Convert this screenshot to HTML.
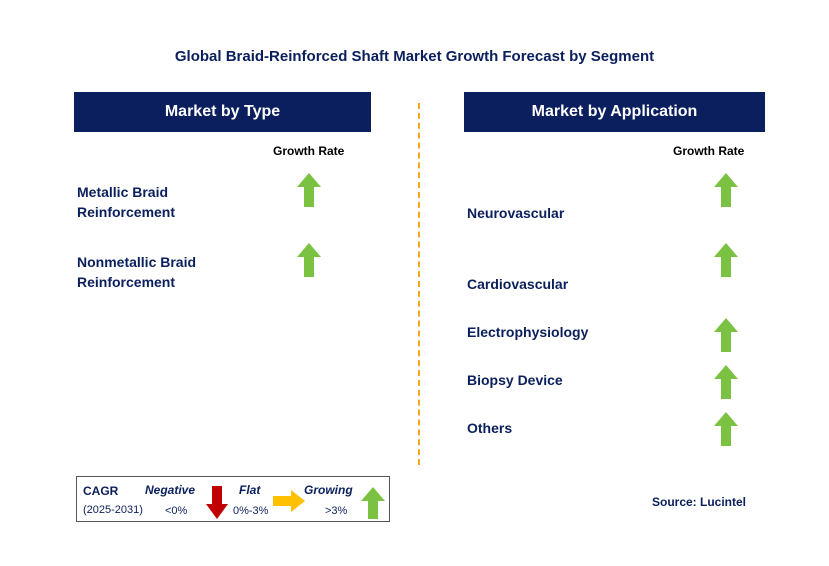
<!DOCTYPE html>
<html><head><meta charset="utf-8"><style>
body{margin:0;background:#fff;font-family:"Liberation Sans",Arial,sans-serif;}
#c{position:relative;width:829px;height:566px;overflow:hidden;background:#fff}
.t{position:absolute;color:#0a1f5c;font-weight:bold;white-space:nowrap}
.hdr{position:absolute;background:#0b1f5e;color:#fff;font-weight:bold;font-size:16px;text-align:center;line-height:40px;height:40px}
.lab{position:absolute;color:#0a1f5c;font-weight:bold;font-size:14px;line-height:20px}
.gr{position:absolute;color:#000;font-weight:bold;font-size:12px}
svg.ar{position:absolute}
</style></head><body>
<div id="c">
<div class="t" style="left:0;width:829px;text-align:center;top:48px;font-size:15px">Global Braid-Reinforced Shaft Market Growth Forecast by Segment</div>
<div class="hdr" style="left:74px;top:92px;width:297px">Market by Type</div>
<div class="hdr" style="left:464px;top:92px;width:301px">Market by Application</div>
<div style="position:absolute;left:418px;top:103px;height:362px;border-left:2px dashed #f5a623"></div>
<div class="gr" style="left:273px;top:144px">Growth Rate</div>
<div class="gr" style="left:673px;top:144px">Growth Rate</div>
<div id="rows"></div>
<div style="position:absolute;left:76px;top:476px;width:314px;height:46px;border:1px solid #555;box-sizing:border-box">
<div style="position:absolute;left:6px;top:7px;font-size:12px;font-weight:bold;color:#0a1f5c">CAGR</div>
<div style="position:absolute;left:6px;top:27px;font-size:11px;color:#0a1f5c">(2025-2031)</div>
<div style="position:absolute;left:68px;top:6px;font-size:12px;font-weight:bold;font-style:italic;color:#0a1f5c">Negative</div>
<div style="position:absolute;left:88px;top:28px;font-size:11px;color:#0a1f5c">&lt;0%</div>
<svg style="position:absolute;left:129px;top:9px" width="22" height="33"><polygon points="6,0 16,0 16,18 22,18 11,33 0,18 6,18" fill="#c00000"/></svg>
<div style="position:absolute;left:162px;top:6px;font-size:12px;font-weight:bold;font-style:italic;color:#0a1f5c">Flat</div>
<div style="position:absolute;left:156px;top:28px;font-size:11px;color:#0a1f5c">0%-3%</div>
<svg style="position:absolute;left:196px;top:13px" width="32" height="22"><polygon points="0,6 18,6 18,0 32,11 18,22 18,16 0,16" fill="#ffc000"/></svg>
<div style="position:absolute;left:227px;top:6px;font-size:12px;font-weight:bold;font-style:italic;color:#0a1f5c">Growing</div>
<div style="position:absolute;left:248px;top:28px;font-size:11px;color:#0a1f5c">&gt;3%</div>
<svg style="position:absolute;left:284px;top:10px" width="24" height="32"><polygon points="12,0 24,14 17,14 17,32 7,32 7,14 0,14" fill="#7cc242"/></svg>
</div>
<div class="t" style="left:652px;top:495px;font-size:12px">Source: Lucintel</div>
</div>
<script>
const typeSegments=["Metallic Braid\nReinforcement","Nonmetallic Braid\nReinforcement"];
const typeTrends=["growing","growing"];
const appSegments=["Neurovascular","Cardiovascular","Electrophysiology","Biopsy Device","Others"];
const appTrends=["growing","growing","growing","growing","growing"];
const typeRowTop=[173,243];
const appArrowTop=[173,243,318,365,412];
const appLabelTop=[203,274,322,370,418];
const rows=document.getElementById('rows');
function arrow(x,y,trend){
  const s=document.createElementNS('http://www.w3.org/2000/svg','svg');
  s.setAttribute('class','ar');s.setAttribute('width','24');s.setAttribute('height','34');
  s.style.left=x+'px';s.style.top=y+'px';
  
  
  const p=document.createElementNS('http://www.w3.org/2000/svg','polygon');
  if(trend==='growing'){p.setAttribute('points','12,0 24,14 17,14 17,34 7,34 7,14 0,14');p.setAttribute('fill','#7cc242');}
  else if(trend==='negative'){p.setAttribute('points','7,0 17,0 17,20 24,20 12,34 0,20 7,20');p.setAttribute('fill','#c00000');}
  else{p.setAttribute('points','0,12 14,12 14,5 24,17 14,29 14,22 0,22');p.setAttribute('fill','#ffc000');}
  s.appendChild(p);rows.appendChild(s);
}
typeSegments.forEach((n,i)=>{
  const d=document.createElement('div');d.className='lab';
  
  
  d.style.left='77px';d.style.top=(typeRowTop[i]+9)+'px';
  d.innerHTML=n.replace('\n','<br>');rows.appendChild(d);
  arrow(297,typeRowTop[i],typeTrends[i]);
});
appSegments.forEach((n,i)=>{
  const d=document.createElement('div');d.className='lab';
  
  
  d.style.left='467px';d.style.top=appLabelTop[i]+'px';
  d.textContent=n;rows.appendChild(d);
  arrow(714,appArrowTop[i],appTrends[i]);
});
</script>
</body></html>
